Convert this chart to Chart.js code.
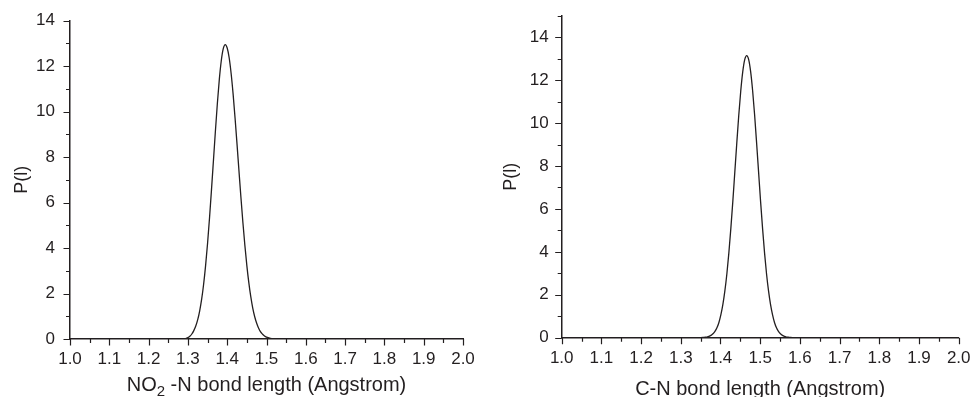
<!DOCTYPE html>
<html>
<head>
<meta charset="utf-8">
<title>Bond length distributions</title>
<script src="https://cdn.jsdelivr.net/npm/chart.js@4.4.1/dist/chart.umd.min.js"></script>
<style>
  html, body { margin: 0; padding: 0; background: #fff; }
  #wrap { position: relative; width: 971px; height: 397px; overflow: hidden; }
  .panel { position: absolute; top: 0; height: 397px; }
  #left { left: 0; width: 485px; }
  #right { left: 480px; width: 491px; }
</style>
</head>
<body>
<div id="wrap">
  <div class="panel" id="left"><canvas id="noChart"></canvas></div>
  <div class="panel" id="right"><canvas id="cnChart"></canvas></div>
</div>
<script>
// NO2-N bond length distribution (left panel)
const noLength = [1.00, 1.29, 1.300, 1.305, 1.310, 1.315, 1.320, 1.325, 1.330, 1.335, 1.340, 1.345,
  1.350, 1.355, 1.360, 1.365, 1.370, 1.375, 1.380, 1.385, 1.390, 1.395, 1.400, 1.405, 1.410,
  1.415, 1.420, 1.425, 1.430, 1.435, 1.440, 1.445, 1.450, 1.455, 1.460, 1.465, 1.470, 1.475,
  1.480, 1.485, 1.490, 1.495, 1.500, 1.510, 1.520, 1.530, 2.00];
const noDensity = [0, 0, 0.06, 0.12, 0.22, 0.37, 0.57, 0.85, 1.24, 1.75, 2.41, 3.23,
  4.20, 5.32, 6.56, 7.85, 9.15, 10.37, 11.43, 12.25, 12.77, 12.95, 12.80, 12.37, 11.68,
  10.78, 9.72, 8.57, 7.38, 6.21, 5.11, 4.11, 3.23, 2.48, 1.86, 1.36, 0.98, 0.69,
  0.47, 0.31, 0.21, 0.13, 0.08, 0.03, 0.01, 0, 0];

// C-N bond length distribution (right panel)
const cnLength = [1.00, 1.346, 1.356, 1.361, 1.366, 1.371, 1.376, 1.381, 1.386, 1.391, 1.396, 1.401,
  1.406, 1.411, 1.416, 1.421, 1.426, 1.431, 1.436, 1.441, 1.446, 1.451, 1.456, 1.461, 1.466,
  1.471, 1.476, 1.481, 1.486, 1.491, 1.496, 1.501, 1.506, 1.511, 1.516, 1.521, 1.526, 1.531,
  1.536, 1.541, 1.546, 1.551, 1.556, 1.561, 1.566, 1.571, 1.576, 1.586, 2.00];
const cnDensity = [0, 0, 0.01, 0.02, 0.03, 0.06, 0.11, 0.18, 0.29, 0.46, 0.71, 1.07,
  1.55, 2.18, 2.97, 3.94, 5.08, 6.34, 7.70, 9.06, 10.36, 11.49, 12.38, 12.95, 13.14,
  12.95, 12.38, 11.49, 10.36, 9.06, 7.70, 6.34, 5.08, 3.94, 2.97, 2.18, 1.55, 1.07,
  0.71, 0.46, 0.29, 0.18, 0.11, 0.06, 0.03, 0.02, 0.01, 0, 0];

// axis titles; [text, subscript?] pieces so NO2 gets a real subscript
const noTitle = [['NO', false], ['2', true], [' -N bond length (Angstrom)', false]];
const cnTitle = [['C-N bond length (Angstrom)', false]];
const yTitle = 'P(l)';

const ink = '#231f20';
const family = '"Liberation Sans", Arial, Helvetica, sans-serif';

// major + minor tick marks, pointing outward
const tickMarks = {
  id: 'tickMarks',
  afterDraw(chart) {
    const { ctx, scales: { x, y } } = chart;
    const major = 6.5, minor = 4;
    ctx.save();
    ctx.strokeStyle = ink;
    ctx.lineWidth = 1.2;
    ctx.beginPath();

    const xStep = x.ticks[1].value - x.ticks[0].value;
    x.ticks.forEach(t => {
      const px = Math.round(x.getPixelForValue(t.value)) + 0.5;
      ctx.moveTo(px, y.bottom);
      ctx.lineTo(px, y.bottom + major);
      const mid = t.value + xStep / 2;
      if (mid <= x.max + 1e-9) {
        const mx = Math.round(x.getPixelForValue(mid)) + 0.5;
        ctx.moveTo(mx, y.bottom);
        ctx.lineTo(mx, y.bottom + minor);
      }
    });

    const yStep = y.ticks[1].value - y.ticks[0].value;
    y.ticks.forEach(t => {
      const py = Math.round(y.getPixelForValue(t.value)) + 0.5;
      ctx.moveTo(x.left, py);
      ctx.lineTo(x.left - major, py);
      const mid = t.value + yStep / 2;
      if (mid <= y.max + 1e-9) {
        const my = Math.round(y.getPixelForValue(mid)) + 0.5;
        ctx.moveTo(x.left, my);
        ctx.lineTo(x.left - minor, my);
      }
    });
    ctx.stroke();
    ctx.restore();
  }
};

// x axis title drawn piece by piece (subscripts)
const xTitle = {
  id: 'xTitle',
  afterDraw(chart, args, opts) {
    const { ctx, chartArea } = chart;
    const big = '20px ' + family, small = '15px ' + family;
    ctx.save();
    ctx.fillStyle = ink;
    ctx.textBaseline = 'alphabetic';
    ctx.textAlign = 'left';
    let total = 0;
    opts.parts.forEach(p => {
      ctx.font = p[1] ? small : big;
      total += ctx.measureText(p[0]).width;
    });
    let cx = (chartArea.left + chartArea.right) / 2 - total / 2;
    opts.parts.forEach(p => {
      ctx.font = p[1] ? small : big;
      ctx.fillText(p[0], cx, opts.baseline + (p[1] ? 5 : 0));
      cx += ctx.measureText(p[0]).width;
    });
    ctx.restore();
  }
};

// invisible grid ticks only push the labels away from the axis
function spacer(len) {
  return {
    display: true,
    drawOnChartArea: false,
    drawTicks: true,
    tickLength: len,
    color: 'rgba(0,0,0,0)',
    tickColor: 'rgba(0,0,0,0)'
  };
}

function makeChart(id, lengths, density, opts) {
  const points = lengths.map((l, i) => ({ x: l, y: density[i] }));
  return new Chart(document.getElementById(id), {
    type: 'line',
    data: {
      datasets: [{
        data: points,
        borderColor: ink,
        borderWidth: 1.3,
        pointRadius: 0,
        fill: false,
        cubicInterpolationMode: 'monotone'
      }]
    },
    options: {
      responsive: true,
      maintainAspectRatio: false,
      animation: false,
      layout: { padding: { top: opts.top, right: opts.right, left: 0, bottom: 0 } },
      plugins: {
        legend: { display: false },
        tooltip: { enabled: false },
        xTitle: { parts: opts.xTitle, baseline: opts.titleBaseline }
      },
      scales: {
        x: {
          type: 'linear',
          min: 1,
          max: 2,
          afterFit: s => { s.height = opts.xHeight; },
          grid: spacer(10),
          border: { display: true, color: ink, width: 1.5 },
          ticks: {
            stepSize: 0.1,
            autoSkip: false,
            maxRotation: 0,
            padding: 0,
            color: ink,
            font: { size: 17, family: family },
            callback: v => v.toFixed(1)
          }
        },
        y: {
          type: 'linear',
          min: 0,
          max: opts.yMax,
          afterFit: s => { s.width = opts.yWidth; },
          grid: spacer(opts.yTickGap),
          border: { display: true, color: ink, width: 1.5 },
          ticks: {
            stepSize: 2,
            includeBounds: false,
            padding: 0,
            color: ink,
            font: { size: 17, family: family }
          },
          title: {
            display: true,
            text: yTitle,
            color: ink,
            font: { size: 18, family: family, lineHeight: 1 },
            padding: { top: opts.yTitlePad, bottom: 0 }
          }
        }
      }
    },
    plugins: [tickMarks, xTitle]
  });
}

makeChart('noChart', noLength, noDensity, {
  xTitle: noTitle, titleBaseline: 391,
  yMax: 14, top: 20.7, right: 22, xHeight: 58, yWidth: 70,
  yTickGap: 15, yTitlePad: 13
});

makeChart('cnChart', cnLength, cnDensity, {
  xTitle: cnTitle, titleBaseline: 395,
  yMax: 15, top: 15.7, right: 12.3, xHeight: 59.3, yWidth: 81.7,
  yTickGap: 13, yTitlePad: 22
});
</script>
</body>
</html>
